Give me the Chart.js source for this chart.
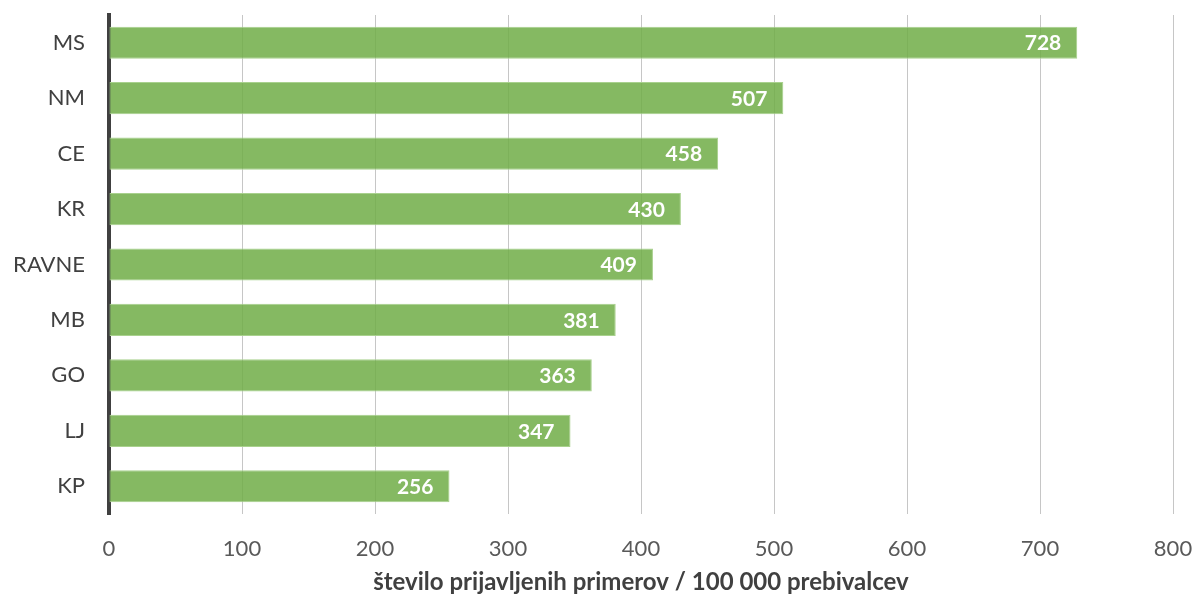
<!DOCTYPE html>
<html>
<head>
<meta charset="utf-8">
<script src="https://cdn.jsdelivr.net/npm/chart.js@4/dist/chart.umd.min.js"></script>
<style>
  html, body { margin: 0; padding: 0; background: #fff; }
  #wrap { width: 1196px; height: 601px; }
</style>
</head>
<body>
<div id="wrap"><canvas id="chart" width="1196" height="601"></canvas></div>
<script>
// data
const regions = ['MS', 'NM', 'CE', 'KR', 'RAVNE', 'MB', 'GO', 'LJ', 'KP'];
const rates = [728, 507, 458, 430, 409, 381, 363, 347, 256];
const xTicks = [0, 100, 200, 300, 400, 500, 600, 700, 800];
const axisTitle = 'število prijavljenih primerov / 100 000 prebivalcev';

const FONT = 'Lato, "Liberation Sans", sans-serif';

// white value labels inside the end of each bar
const barValueLabels = {
  id: 'barValueLabels',
  afterDatasetsDraw(chart) {
    const ctx = chart.ctx;
    const meta = chart.getDatasetMeta(0);
    ctx.save();
    ctx.fillStyle = '#ffffff';
    ctx.font = 'bold 21px ' + FONT;
    ctx.textAlign = 'right';
    ctx.textBaseline = 'middle';
    meta.data.forEach((bar, i) => {
      ctx.fillText(String(rates[i]), bar.x - 16, bar.y + 1);
    });
    ctx.restore();
  }
};

new Chart(document.getElementById('chart').getContext('2d'), {
  type: 'bar',
  data: {
    labels: regions,
    datasets: [{
      data: rates,
      backgroundColor: 'rgba(112, 173, 71, 0.85)',
      borderColor: 'rgba(169, 209, 142, 1)',
      borderWidth: 1,
      borderSkipped: false,
      categoryPercentage: 1,
      barPercentage: 0.58
    }]
  },
  options: {
    indexAxis: 'y',
    responsive: false,
    animation: false,
    layout: { padding: { top: 15, right: 23, left: 0, bottom: 0 } },
    plugins: {
      legend: { display: false },
      tooltip: { enabled: false }
    },
    scales: {
      x: {
        min: 0,
        max: 800,
        afterBuildTicks(scale) {
          scale.ticks = xTicks.map(v => ({ value: v }));
        },
        afterFit(scale) {
          scale.height = 87;
          scale.paddingLeft = 0;
          scale.paddingRight = 0;
        },
        grid: { color: '#c6c6c6', lineWidth: 1, drawTicks: false },
        border: { display: false },
        ticks: {
          color: '#595959',
          font: { family: FONT, size: 22 },
          padding: 22
        },
        title: {
          display: true,
          text: axisTitle,
          color: '#404040',
          font: { family: FONT, size: 24, weight: 'bold' },
          padding: { top: 4 }
        }
      },
      y: {
        afterFit(scale) {
          scale.width = 109;
          scale.paddingTop = 0;
          scale.paddingBottom = 0;
        },
        grid: { display: false, drawTicks: false },
        border: { display: true, color: '#404040', width: 4 },
        ticks: {
          color: '#404040',
          font: { family: FONT, size: 22 },
          padding: 24
        }
      }
    }
  },
  plugins: [barValueLabels]
});
</script>
</body>
</html>
